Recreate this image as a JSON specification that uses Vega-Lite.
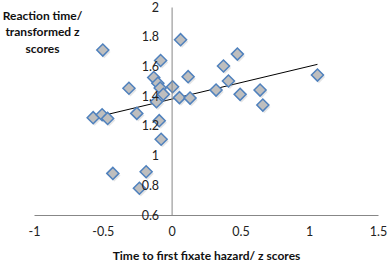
{
  "$schema": "https://vega.github.io/schema/vega-lite/v6.json",
  "autosize": "none",
  "width": 344,
  "height": 208,
  "padding": {"left": 34, "top": 7, "right": 10, "bottom": 49},
  "background": "white",
  "config": {"view": {"stroke": null}, "font": "Lato", "axis": {"labelOverlap": false, "labelFlush": false, "labelBound": false}},
  "datasets": {
    "pts": [
      {"x": -0.50, "y": 1.71}, {"x": -0.08, "y": 1.64}, {"x": 0.065, "y": 1.78},
      {"x": -0.13, "y": 1.525}, {"x": -0.10, "y": 1.487}, {"x": -0.083, "y": 1.455},
      {"x": -0.06, "y": 1.412}, {"x": -0.11, "y": 1.362}, {"x": -0.31, "y": 1.453},
      {"x": 0.007, "y": 1.463}, {"x": 0.057, "y": 1.39}, {"x": 0.134, "y": 1.387},
      {"x": 0.12, "y": 1.531}, {"x": -0.57, "y": 1.255}, {"x": -0.505, "y": 1.275},
      {"x": -0.465, "y": 1.25}, {"x": -0.253, "y": 1.284}, {"x": -0.09, "y": 1.235},
      {"x": -0.076, "y": 1.11}, {"x": -0.427, "y": 0.88}, {"x": -0.185, "y": 0.891},
      {"x": -0.234, "y": 0.78}, {"x": 0.323, "y": 1.441}, {"x": 0.413, "y": 1.502},
      {"x": 0.377, "y": 1.603}, {"x": 0.478, "y": 1.683}, {"x": 0.498, "y": 1.412},
      {"x": 0.643, "y": 1.441}, {"x": 0.663, "y": 1.34}, {"x": 1.06, "y": 1.542}
    ],
    "trend": [{"x": -0.556, "y": 1.257}, {"x": 1.06, "y": 1.614}]
  },
  "encoding": {
    "x": {
      "field": "x", "type": "quantitative",
      "scale": {"domain": [-1, 1.5], "nice": false, "zero": false},
      "axis": {
        "values": [-1, -0.5, 0, 0.5, 1, 1.5],
        "labelExpr": "replace(format(datum.value, '~g'), '\u2212', '-')",
        "grid": false, "ticks": false, "domainColor": "#878787", "domainWidth": 1,
        "labelFont": "Lato", "labelFontSize": 12.5, "labelColor": "#222222", "labelPadding": 10,
        "title": "Time to first fixate hazard/ z scores",
        "titleFont": "Lato", "titleFontSize": 12, "titleFontWeight": "bold", "titleColor": "#111111",
        "titleY": 40, "titleBaseline": "middle"
      }
    },
    "y": {
      "field": "y", "type": "quantitative",
      "scale": {"domain": [0.6, 2], "nice": false, "zero": false},
      "axis": {
        "values": [0.6, 0.8, 1, 1.2, 1.4, 1.6, 1.8, 2],
        "labelExpr": "format(datum.value, '~g')",
        "offset": -137.6,
        "zindex": 1,
        "grid": false, "ticks": false, "domainColor": "#878787", "domainWidth": 1,
        "labelFont": "Lato", "labelFontSize": 12.5, "labelColor": "#222222", "labelPadding": 13,
        "title": ["Reaction time/", "transformed z", "scores"],
        "titleFont": "Lato", "titleFontSize": 12, "titleFontWeight": "bold", "titleColor": "#111111",
        "titleAngle": 0, "titleAlign": "center", "titleBaseline": "top",
        "titleX": -129.6, "titleY": 3, "titleLineHeight": 16.5
      }
    }
  },
  "layer": [
    {
      "data": {"name": "trend"},
      "mark": {"type": "line", "color": "black", "strokeWidth": 1}
    },
    {
      "data": {"name": "pts"},
      "mark": {"type": "point", "shape": "diamond", "filled": true, "fill": "#999999", "strokeWidth": 0, "size": 150, "opacity": 0.25, "xOffset": 1.5, "yOffset": 2}
    },
    {
      "data": {"name": "pts"},
      "mark": {"type": "point", "shape": "diamond", "filled": true, "fill": "#BEBEBE", "stroke": "#4F81BD", "strokeWidth": 1.5, "size": 145, "opacity": 1}
    }
  ]
}
